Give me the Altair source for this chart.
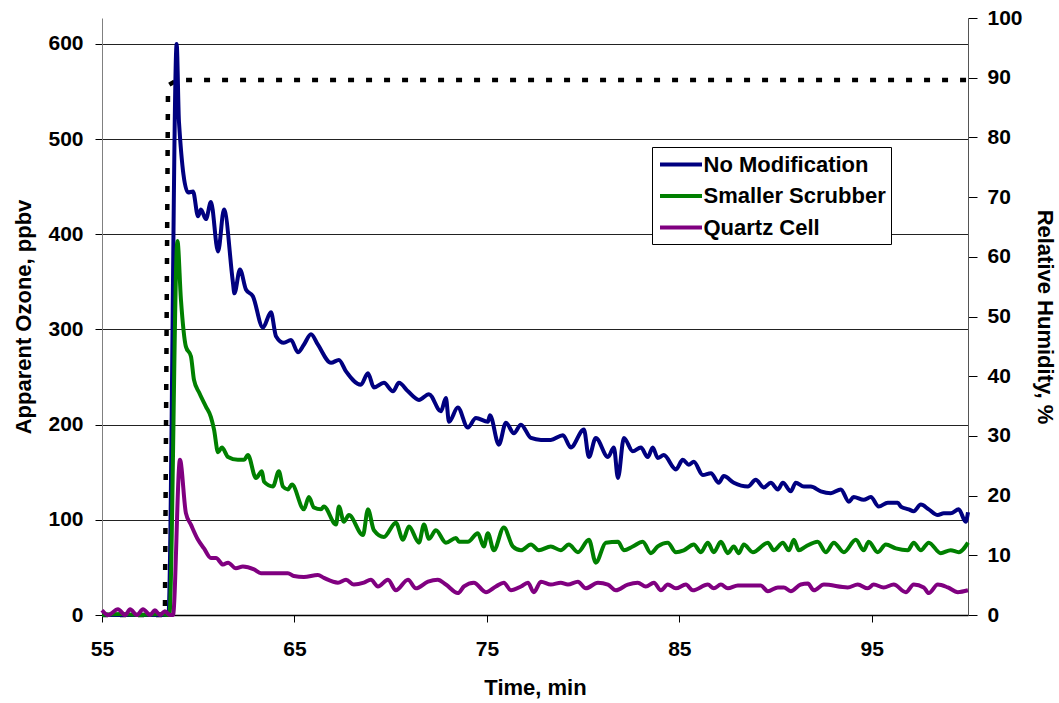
import altair as alt
import pandas as pd

# (time in min, apparent ozone in ppbv) for each instrument configuration
no_modification = [
    (55.0, 0), (56.0, 0), (57.0, 0), (58.0, 0), (58.45, 0), (58.88, 600), (59.0, 518),
    (59.47, 444), (59.73, 445), (59.99, 419), (60.14, 426), (60.40, 416), (60.66, 434),
    (61.03, 382), (61.34, 426), (61.8, 350), (61.88, 338), (62.17, 363), (62.48, 342),
    (62.84, 335), (63.36, 302), (63.78, 318), (64.04, 293), (64.45, 286), (64.82, 289),
    (65.18, 276), (65.49, 284), (65.86, 295), (66.22, 284), (66.90, 265), (67.31, 268),
    (67.68, 256), (68.45, 242), (68.82, 254), (69.13, 239), (69.65, 244), (70.12, 235),
    (70.43, 244), (70.90, 235), (71.47, 226), (71.99, 232), (72.61, 214), (72.87, 228),
    (73.03, 203), (73.49, 218), (74.01, 197), (74.43, 207), (75.05, 203), (75.16, 210),
    (75.62, 179), (75.99, 202), (76.40, 191), (76.77, 200), (77.29, 186), (77.81, 184),
    (78.32, 184), (78.95, 189), (79.36, 176), (80.04, 195), (80.30, 166), (80.66, 186),
    (81.29, 166), (81.60, 176), (81.81, 144), (82.12, 186), (82.58, 172), (83.00, 176),
    (83.36, 166), (83.62, 176), (83.88, 165), (84.19, 168), (84.82, 153), (85.18, 163),
    (85.49, 158), (85.75, 161), (86.22, 147), (86.64, 149), (87.05, 139), (87.31, 146),
    (87.83, 139), (88.56, 135), (88.97, 142), (89.39, 134), (89.75, 139), (90.12, 132),
    (90.38, 139), (90.79, 130), (91.05, 139), (91.47, 135), (91.83, 135), (92.35, 130),
    (92.87, 128), (93.39, 132), (93.81, 119), (94.06, 124), (94.58, 121), (94.95, 124),
    (95.36, 114), (95.83, 118), (96.35, 118), (96.51, 114), (96.92, 111), (97.18, 109),
    (97.55, 116), (97.96, 111), (98.43, 105), (98.74, 107), (99.10, 107), (99.52, 111),
    (99.88, 98), (100.0, 108),
]

smaller_scrubber = [
    (55.0, 0), (56.0, 1), (57.0, 0), (58.0, 1), (58.5, 0), (58.92, 393), (59.10, 332),
    (59.36, 282), (59.62, 272), (59.78, 247), (60.04, 234), (60.40, 219), (60.66, 208),
    (60.82, 195), (61.03, 171), (61.23, 176), (61.55, 166), (62.06, 163), (62.38, 163),
    (62.58, 168), (63.00, 144), (63.31, 151), (63.42, 140), (63.88, 135), (64.19, 151),
    (64.40, 135), (64.66, 132), (64.87, 137), (65.49, 111), (65.75, 124), (66.01, 113),
    (66.38, 111), (66.53, 114), (67.16, 95), (67.31, 114), (67.57, 98), (67.83, 105),
    (68.56, 84), (68.82, 111), (69.13, 89), (69.65, 82), (70.27, 97), (70.64, 79),
    (70.95, 93), (71.47, 76), (71.73, 95), (71.99, 80), (72.35, 89), (72.87, 76),
    (73.39, 81), (73.55, 77), (74.01, 77), (74.53, 86), (74.84, 72), (75.05, 86),
    (75.36, 68), (75.88, 92), (76.35, 72), (76.77, 68), (77.29, 74), (77.70, 68),
    (78.32, 72), (78.84, 68), (79.26, 74), (79.73, 66), (80.30, 79), (80.66, 55),
    (81.18, 76), (81.81, 77), (82.12, 68), (82.58, 72), (83.10, 77), (83.52, 65),
    (83.88, 72), (84.40, 76), (84.82, 66), (85.23, 68), (85.75, 74), (86.12, 66),
    (86.48, 76), (86.79, 66), (87.16, 77), (87.52, 65), (87.83, 72), (88.09, 65),
    (88.35, 74), (88.82, 66), (89.60, 76), (89.91, 68), (90.38, 76), (90.69, 68),
    (90.95, 79), (91.21, 68), (91.57, 72), (92.19, 77), (92.61, 66), (93.03, 76),
    (93.55, 66), (94.17, 79), (94.58, 68), (94.84, 77), (95.31, 66), (95.73, 74),
    (96.25, 70), (96.87, 68), (97.18, 76), (97.55, 68), (97.96, 76), (98.58, 65),
    (99.10, 68), (99.52, 66), (100.0, 76),
]

quartz_cell = [
    (55.0, 5), (55.31, 0), (55.83, 6), (56.2, 0), (56.46, 6), (56.82, 0), (57.13, 6),
    (57.5, 0), (57.75, 5), (58.01, 0), (58.27, 4), (58.53, 0), (58.69, 0), (59.05, 163),
    (59.36, 107), (59.62, 95), (59.99, 79), (60.30, 70), (60.66, 60), (60.92, 60),
    (61.29, 53), (61.55, 55), (61.96, 49), (62.32, 51), (62.90, 48), (63.26, 44),
    (64.66, 44), (64.97, 41), (65.49, 40), (66.22, 42), (66.53, 39), (67.26, 34),
    (67.68, 37), (68.09, 32), (68.61, 34), (68.97, 37), (69.34, 30), (69.86, 37),
    (70.27, 26), (70.90, 37), (71.31, 28), (71.94, 35), (72.45, 37), (72.87, 32),
    (73.49, 23), (73.81, 30), (74.32, 34), (74.95, 24), (75.47, 30), (75.88, 34),
    (76.25, 26), (76.77, 30), (77.13, 34), (77.44, 24), (77.81, 35), (78.32, 32),
    (78.84, 34), (79.21, 32), (79.73, 35), (80.14, 28), (80.77, 34), (81.29, 32),
    (81.70, 26), (82.32, 32), (82.84, 34), (83.26, 30), (83.68, 34), (84.04, 26),
    (84.40, 32), (84.82, 28), (85.34, 32), (85.70, 26), (86.48, 32), (86.79, 28),
    (87.16, 32), (87.52, 28), (88.04, 31), (89.23, 31), (89.60, 25), (90.12, 29),
    (90.43, 29), (90.79, 25), (91.31, 32), (91.68, 33), (91.99, 26), (92.51, 32),
    (93.75, 29), (94.27, 32), (94.79, 28), (95.10, 32), (95.62, 29), (96.14, 32),
    (96.77, 24), (97.18, 32), (97.70, 29), (97.96, 23), (98.43, 32), (98.95, 29),
    (99.47, 24), (100.0, 26),
]

# (time in min, relative humidity in %)
relative_humidity = [(55.0, 0), (58.27, 0), (58.43, 88.7), (58.9, 89.6), (100.0, 89.6)]

series_names = ["No Modification", "Smaller Scrubber", "Quartz Cell"]
series_colors = ["#000080", "#008000", "#800080"]
time_ticks = [55, 65, 75, 85, 95]
ozone_ticks = [0, 100, 200, 300, 400, 500, 600]
rh_ticks = [0, 10, 20, 30, 40, 50, 60, 70, 80, 90, 100]

rows = []
for name, pts in zip(series_names, [no_modification, smaller_scrubber, quartz_cell]):
    for t, v in pts:
        rows.append({"time": t, "ozone": v, "series": name})
ozone_df = pd.DataFrame(rows)
rh_df = pd.DataFrame(relative_humidity, columns=["time", "rh"])

FONT = "Liberation Sans"

x_enc = alt.X(
    "time:Q",
    scale=alt.Scale(domain=[55, 100], nice=False, zero=False),
    axis=alt.Axis(
        values=time_ticks, title="Time, min", grid=False, labelFlush=False,
        domainColor="#000000", domainWidth=1.5, tickColor="#000000", tickSize=7,
        labelPadding=16, titlePadding=18,
    ),
)

rh_line = alt.Chart(rh_df).mark_line(
    color="#000000", strokeWidth=4.5, strokeDash=[6, 12], strokeCap="butt"
).encode(
    x=x_enc,
    y=alt.Y(
        "rh:Q",
        scale=alt.Scale(domain=[0, 100], nice=False),
        axis=alt.Axis(
            orient="right", values=rh_ticks, title="Relative Humidity, %", grid=False,
            labelFlush=False, domainColor="#555555", tickColor="#000000", tickSize=9,
            labelPadding=10, titlePadding=10,
        ),
    ),
)

ozone_lines = alt.Chart(ozone_df).mark_line(strokeWidth=4, interpolate="monotone").encode(
    x=x_enc,
    y=alt.Y(
        "ozone:Q",
        scale=alt.Scale(domain=[0, 627.3], nice=False),
        axis=alt.Axis(
            orient="left", values=ozone_ticks, title="Apparent Ozone, ppbv", grid=True,
            labelFlush=False, gridColor="#222222", gridWidth=1, domainColor="#808080",
            tickColor="#000000", tickSize=7, labelPadding=12, titlePadding=12,
        ),
    ),
    color=alt.Color(
        "series:N",
        scale=alt.Scale(domain=series_names, range=series_colors),
        legend=alt.Legend(
            title=None, orient="none", legendX=550, legendY=129,
            symbolType="M-2,0L2,0", symbolStrokeWidth=4, symbolSize=441,
            symbolOffset=11.5, labelOffset=10, labelLimit=400,
            labelFontSize=22, labelFont=FONT, labelFontWeight="bold", labelColor="#000000",
            strokeColor="#000000", fillColor="#ffffff", padding=5, rowPadding=7.5,
        ),
    ),
)

chart = (
    alt.layer(rh_line, ozone_lines)
    .resolve_scale(y="independent")
    .properties(
        width=866, height=597,
        autosize=alt.AutoSizeParams(type="none"),
        padding={"left": 102, "top": 18, "right": 91, "bottom": 88},
        background="#ffffff",
    )
    .configure_view(stroke=None)
    .configure_axis(
        labelFont=FONT, labelFontSize=21, labelFontWeight="bold", labelColor="#000000",
        titleFont=FONT, titleFontSize=22, titleFontWeight="bold", titleColor="#000000",
    )
)

chart.save("out.html", embed_options={"renderer": "svg", "actions": False})
